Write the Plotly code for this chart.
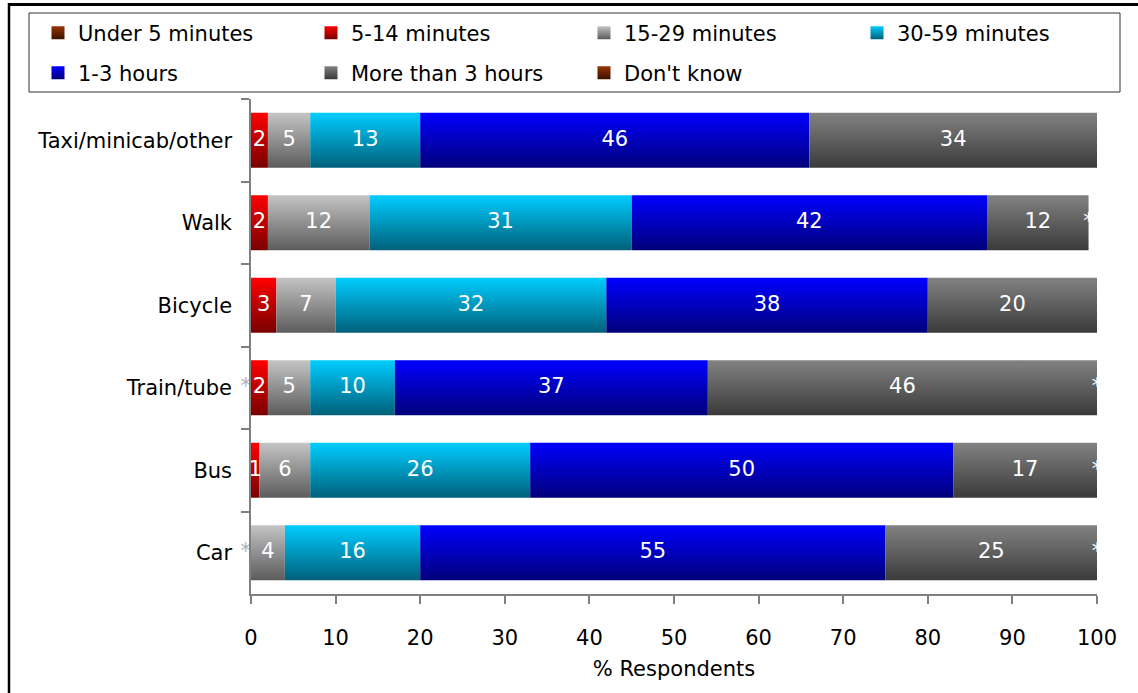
import plotly.graph_objects as go

# Journey time by mode of transport (% respondents)
categories = ["Taxi/minicab/other", "Walk", "Bicycle", "Train/tube", "Bus", "Car"]
bands = ["Under 5 minutes", "5-14 minutes", "15-29 minutes", "30-59 minutes",
         "1-3 hours", "More than 3 hours", "Don't know"]

# None marks a share below 0.5%, printed as "*"
under_5 = [0, 0, 0, None, 0, None]
min_5_14 = [2, 2, 3, 2, 1, 0]
min_15_29 = [5, 12, 7, 5, 6, 4]
min_30_59 = [13, 31, 32, 10, 26, 16]
hours_1_3 = [46, 42, 38, 37, 50, 55]
over_3h = [34, 12, 20, 46, 17, 25]
dont_know = [0, None, 0, None, None, None]

x_ticks = [0, 10, 20, 30, 40, 50, 60, 70, 80, 90, 100]

series = [under_5, min_5_14, min_15_29, min_30_59, hours_1_3, over_3h, dont_know]

# (light, dark) ends of each band's shaded fill
shades = [
    ("#9a3300", "#3a1200"),
    ("#ff0000", "#780000"),
    ("#c4c4c4", "#5c5c5c"),
    ("#00cdff", "#00607a"),
    ("#0000ff", "#00007a"),
    ("#828282", "#3a3a3a"),
    ("#9a3300", "#3a1200"),
]

FONT = "DejaVu Sans"
W, H = 1138, 693
L, R, T, B = 251, 41, 99, 99
HALF = 0.333


def px_x(px):
    return (px - L) / (W - L - R)


def px_y(py):
    return (H - B - py) / (H - T - B)


fig = go.Figure()

lab_x, lab_y, lab_t, lab_pos, lab_col = [], [], [], [], []
for r in range(len(categories)):
    left = 0
    for b, vals in enumerate(series):
        v = vals[r]
        if v is None:
            lab_x.append(left)
            lab_y.append(r)
            lab_t.append("*")
            # a star at the very start sits just left of the next label
            if left == 0:
                lab_pos.append("middle left")
                lab_col.append("#b0b0b0")
            else:
                lab_pos.append("middle center")
                lab_col.append("#ffffff")
            continue
        if v == 0:
            continue
        right = left + v
        light, dark = shades[b]
        fig.add_trace(go.Scatter(
            x=[left, right, right, left, left],
            y=[r - HALF, r - HALF, r + HALF, r + HALF, r - HALF],
            mode="none", fill="toself",
            fillgradient=dict(type="vertical",
                              colorscale=[[0, dark], [1, light]]),
            showlegend=False, hoverinfo="skip",
        ))
        lab_x.append((left + right) / 2)
        lab_y.append(r)
        lab_t.append(str(v))
        lab_pos.append("middle center")
        lab_col.append("#ffffff")
        left = right

fig.add_trace(go.Scatter(
    x=lab_x, y=lab_y, text=lab_t, mode="text",
    textposition=lab_pos,
    textfont=dict(family=FONT, size=21, color=lab_col),
    showlegend=False, hoverinfo="skip", cliponaxis=False,
))

# legend swatches: first four bands on the top row, the rest below
for b, name in enumerate(bands):
    light, dark = shades[b]
    fig.add_trace(go.Scatter(
        x=[None], y=[None], mode="markers", name=name,
        marker=dict(symbol="square", size=13, color=light,
                    gradient=dict(type="vertical", color=dark)),
        legend="legend" if b < 4 else "legend2",
    ))

legend_common = dict(
    orientation="h", xanchor="left", yanchor="middle",
    entrywidth=228, entrywidthmode="pixels",
    font=dict(family=FONT, size=21, color="#000000"),
    bgcolor="rgba(0,0,0,0)", borderwidth=0,
    itemclick=False, itemdoubleclick=False,
)

fig.update_layout(
    width=W, height=H,
    margin=dict(l=L, r=R, t=T, b=B, autoexpand=False),
    paper_bgcolor="#ffffff", plot_bgcolor="#ffffff",
    font=dict(family=FONT, size=21, color="#000000"),
    legend=dict(x=px_x(38), y=px_y(33), **legend_common),
    legend2=dict(x=px_x(38), y=px_y(73), **legend_common),
    xaxis=dict(
        range=[0, 100], tickvals=x_ticks, ticks="outside", ticklen=8,
        tickcolor="#808080", tickwidth=1.5,
        showline=True, linecolor="#808080", linewidth=1.5,
        showgrid=False, zeroline=False,
        ticklabelstandoff=16,
        tickfont=dict(family=FONT, size=21, color="#000000"),
        title=dict(text="% Respondents", standoff=12,
                   font=dict(family=FONT, size=21, color="#000000")),
    ),
    yaxis=dict(
        range=[len(categories) - 0.5, -0.5],
        tickvals=list(range(len(categories))), ticktext=categories,
        ticks="", showline=True, linecolor="#808080", linewidth=1.5,
        showgrid=False, zeroline=False,
        ticklabelstandoff=13,
        tickfont=dict(family=FONT, size=21, color="#000000"),
        minor=dict(tickvals=[i - 0.5 for i in range(len(categories))],
                   ticks="outside", ticklen=8, tickcolor="#808080",
                   tickwidth=1.5, showgrid=False),
    ),
    shapes=[
        # legend frame
        dict(type="rect", xref="paper", yref="paper",
             x0=px_x(29), x1=px_x(1120), y0=px_y(92), y1=px_y(13),
             line=dict(color="#333333", width=1), fillcolor="rgba(0,0,0,0)",
             layer="below"),
        # outer frame (top and left edges)
        dict(type="line", xref="paper", yref="paper",
             x0=px_x(9), x1=px_x(W + 5), y0=px_y(4.5), y1=px_y(4.5),
             line=dict(color="#000000", width=3)),
        dict(type="line", xref="paper", yref="paper",
             x0=px_x(9), x1=px_x(9), y0=px_y(3), y1=px_y(H + 5),
             line=dict(color="#000000", width=2.5)),
    ],
)

fig.write_html("out.html")
